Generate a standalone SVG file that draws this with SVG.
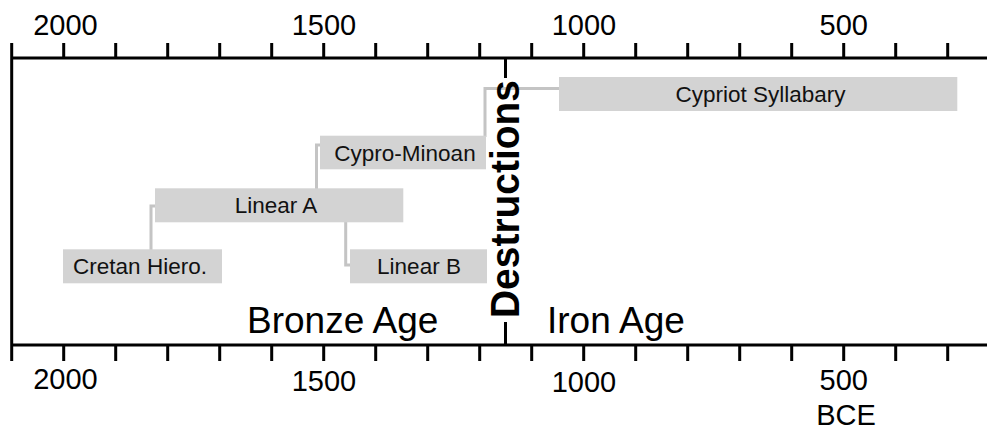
<svg xmlns="http://www.w3.org/2000/svg" width="987" height="430" viewBox="0 0 987 430">
<style>
.ax{stroke:#000;stroke-width:3;fill:none}
.bar{fill:#d3d3d3}
.con{stroke:#c4c4c4;stroke-width:3;fill:none}
.lab{font-family:"Liberation Sans",Arial,sans-serif;font-size:22.5px;fill:#111;text-anchor:middle}
.yr{font-family:"Liberation Sans",Arial,sans-serif;font-size:29px;fill:#000;text-anchor:middle}
.age{font-family:"Liberation Sans",Arial,sans-serif;font-size:37px;fill:#000}
.dest{font-family:"Liberation Sans",Arial,sans-serif;font-size:41px;font-weight:bold;fill:#000;text-anchor:middle}
</style>
<rect width="987" height="430" fill="#fff"/>
<g id="axes">
<path class="ax" d="M11.7,43 V361 M10.2,58 H987 M10.2,345 H987"/>
<path class="ax" d="M63.7,43V58 M115.7,43V58 M167.7,43V58 M219.7,43V58 M271.7,43V58 M323.7,43V58 M375.7,43V58 M427.7,43V58 M479.7,43V58 M531.7,43V58 M583.7,43V58 M635.7,43V58 M687.7,43V58 M739.7,43V58 M791.7,43V58 M843.7,43V58 M895.7,43V58 M947.7,43V58"/>
<path class="ax" d="M63.7,345V361 M115.7,345V361 M167.7,345V361 M219.7,345V361 M271.7,345V361 M323.7,345V361 M375.7,345V361 M427.7,345V361 M479.7,345V361 M531.7,345V361 M583.7,345V361 M635.7,345V361 M687.7,345V361 M739.7,345V361 M791.7,345V361 M843.7,345V361 M895.7,345V361 M947.7,345V361"/>
<text class="yr" x="65.5" y="35">2000</text>
<text class="yr" x="324" y="35">1500</text>
<text class="yr" x="584" y="35">1000</text>
<text class="yr" x="843.7" y="35">500</text>
<text class="yr" x="65.5" y="389">2000</text>
<text class="yr" x="324" y="391">1500</text>
<text class="yr" x="584" y="392">1000</text>
<text class="yr" x="843.7" y="390">500</text>
<text class="yr" x="846" y="425">BCE</text>
</g>
<g id="connectors">
<path class="con" d="M151,250 V206 H156"/>
<path class="con" d="M345.7,222 V265 H351"/>
<path class="con" d="M316.5,189 V145 H321"/>
<path class="con" d="M485,137 V88.5 H560"/>
</g>
<g id="cretan">
<rect class="bar" x="63" y="249.3" width="159" height="34"/>
<text class="lab" x="140" y="274">Cretan Hiero.</text>
</g>
<g id="linearA">
<rect class="bar" x="155" y="188.3" width="248.3" height="34"/>
<text class="lab" x="276" y="213">Linear A</text>
</g>
<g id="linearB">
<rect class="bar" x="350" y="249.3" width="137" height="34"/>
<text class="lab" x="419" y="274">Linear B</text>
</g>
<g id="cyproMinoan">
<rect class="bar" x="320" y="135.7" width="166" height="33.6"/>
<text class="lab" x="405" y="160.5">Cypro-Minoan</text>
</g>
<g id="cypriot">
<rect class="bar" x="559" y="77" width="398.3" height="34"/>
<text class="lab" x="760.5" y="101.5">Cypriot Syllabary</text>
</g>
<g id="destructions">
<path class="ax" d="M505.5,58 V78 M505.5,322 V345"/>
<text class="dest" transform="translate(519,199) rotate(-90)" x="0" y="0" textLength="238" lengthAdjust="spacingAndGlyphs">Destructions</text>
</g>
<g id="ages">
<text class="age" x="247" y="333">Bronze Age</text>
<text class="age" x="547" y="333">Iron Age</text>
</g>
</svg>
